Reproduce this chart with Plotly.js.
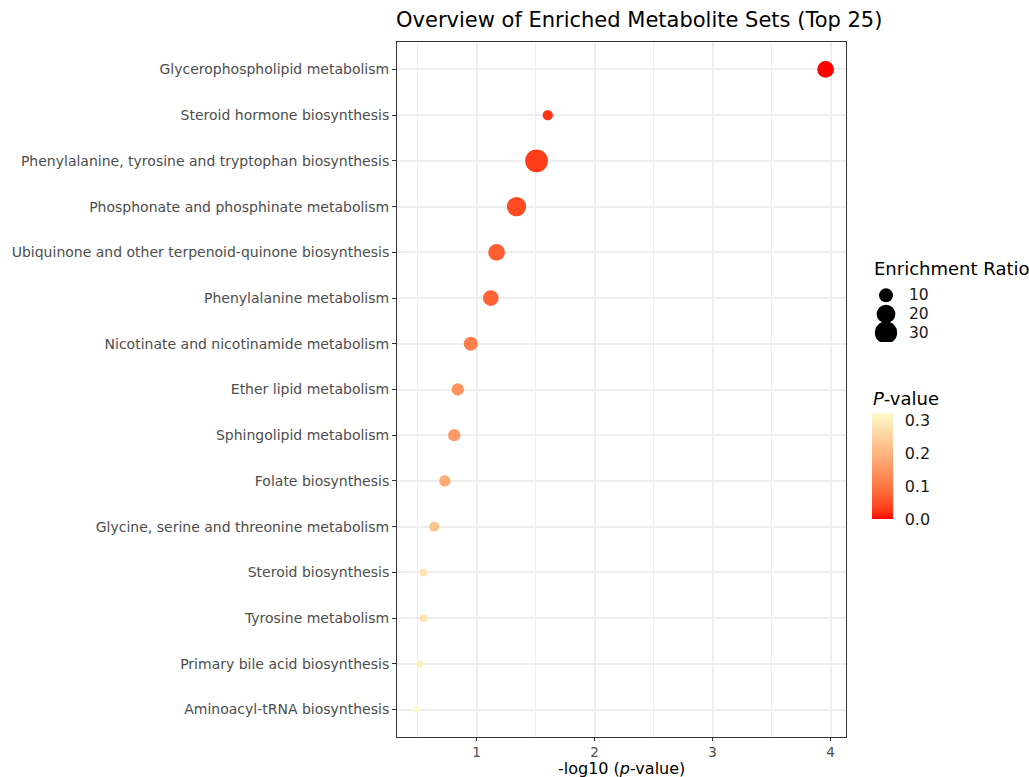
<!DOCTYPE html>
<html>
<head>
<meta charset="utf-8">
<script src="https://cdn.plot.ly/plotly-3.0.1.min.js"></script>
<style>html,body{margin:0;padding:0;background:#fff;}#chart{width:1029px;height:777px;}</style>
</head>
<body>
<div id="chart"></div>
<script>
// ---- data ----
var categories = [
  "Glycerophospholipid metabolism",
  "Steroid hormone biosynthesis",
  "Phenylalanine, tyrosine and tryptophan biosynthesis",
  "Phosphonate and phosphinate metabolism",
  "Ubiquinone and other terpenoid-quinone biosynthesis",
  "Phenylalanine metabolism",
  "Nicotinate and nicotinamide metabolism",
  "Ether lipid metabolism",
  "Sphingolipid metabolism",
  "Folate biosynthesis",
  "Glycine, serine and threonine metabolism",
  "Steroid biosynthesis",
  "Tyrosine metabolism",
  "Primary bile acid biosynthesis",
  "Aminoacyl-tRNA biosynthesis"
];
var negLog10P = [3.958, 1.603, 1.508, 1.338, 1.169, 1.12, 0.95, 0.84, 0.81, 0.73, 0.64, 0.55, 0.55, 0.518, 0.49];
var pValues   = [0.00011, 0.0249, 0.031, 0.0459, 0.0678, 0.0759, 0.112, 0.145, 0.155, 0.186, 0.229, 0.282, 0.282, 0.303, 0.324];
var enrichmentRatio = [15.3, 4.5, 31.3, 21.6, 15.3, 13.2, 10.0, 7.2, 7.2, 5.8, 4.2, 2.0, 2.0, 1.7, 1.3];
var xTickVals = [1, 2, 3, 4];
var sizeLegendValues = [10, 20, 30];
var colorbarTicks = [0.0, 0.1, 0.2, 0.3];

// ---- helpers ----
var W = 1029, H = 777;
function px(x){ return x / W; }
function py(y){ return 1 - y / H; }
function sizeOf(er){ return 2.68 + 3.58 * Math.sqrt(er); }

// Lab interpolation (like ggplot2's gradient)
function toLin(c){ c/=255; return c<=0.04045 ? c/12.92 : Math.pow((c+0.055)/1.055,2.4); }
function fromLin(c){ var v = c<=0.0031308 ? 12.92*c : 1.055*Math.pow(c,1/2.4)-0.055; return Math.max(0,Math.min(255,Math.round(v*255))); }
var Xn=0.95047, Yn=1, Zn=1.08883, eps=216/24389, kap=24389/27;
function f(t){ return t>eps ? Math.cbrt(t) : (kap*t+16)/116; }
function finv(t){ var t3=t*t*t; return t3>eps ? t3 : (116*t-16)/kap; }
function rgb2lab(c){
  var r=toLin(c[0]), g=toLin(c[1]), b=toLin(c[2]);
  var X=0.4124564*r+0.3575761*g+0.1804375*b, Y=0.2126729*r+0.7151522*g+0.0721750*b, Z=0.0193339*r+0.1191920*g+0.9503041*b;
  var fx=f(X/Xn), fy=f(Y/Yn), fz=f(Z/Zn);
  return [116*fy-16, 500*(fx-fy), 200*(fy-fz)];
}
function lab2rgb(l){
  var fy=(l[0]+16)/116, fx=fy+l[1]/500, fz=fy-l[2]/200;
  var X=finv(fx)*Xn, Y=finv(fy)*Yn, Z=finv(fz)*Zn;
  var r=3.2404542*X-1.5371385*Y-0.4985314*Z, g=-0.9692660*X+1.8760108*Y+0.0415560*Z, b=0.0556434*X-0.2040259*Y+1.0572252*Z;
  return 'rgb('+fromLin(r)+','+fromLin(g)+','+fromLin(b)+')';
}
var lowC = rgb2lab([255,0,0]), highC = rgb2lab([255,250,205]);
var colorscale = [];
for (var i=0;i<=20;i++){
  var t=i/20;
  colorscale.push([t, lab2rgb([lowC[0]+(highC[0]-lowC[0])*t, lowC[1]+(highC[1]-lowC[1])*t, lowC[2]+(highC[2]-lowC[2])*t])]);
}

var FONT = "DejaVu Sans, sans-serif";
var pMax = Math.max.apply(null, pValues);

var mainTrace = {
  type: 'scatter', mode: 'markers',
  x: negLog10P, y: categories,
  xaxis: 'x', yaxis: 'y',
  marker: {
    size: enrichmentRatio.map(sizeOf), sizemode: 'diameter',
    color: pValues, colorscale: colorscale, cmin: 0, cmax: pMax,
    opacity: 1, line: {width: 0},
    colorbar: {
      x: px(872), xanchor: 'left', xpad: 0,
      y: py(466), yanchor: 'middle', ypad: 0,
      thickness: 21, thicknessmode: 'pixels',
      len: 106, lenmode: 'pixels',
      outlinewidth: 0,
      tickvals: colorbarTicks, ticktext: colorbarTicks.map(function(v){return v.toFixed(1);}),
      ticks: 'outside', ticklen: 9, tickcolor: 'rgba(0,0,0,0)', tickwidth: 1,
      tickfont: {family: FONT, size: 16, color: '#1a1a1a'}
    }
  },
  showlegend: false, hoverinfo: 'x+y'
};

var legendTrace = {
  type: 'scatter', mode: 'markers',
  x: sizeLegendValues.map(function(){return 0.5;}),
  y: sizeLegendValues.map(function(v,i){return i;}),
  xaxis: 'x2', yaxis: 'y2',
  marker: {size: sizeLegendValues.map(sizeOf), sizemode: 'diameter', color: '#000000', opacity: 1, line: {width: 0}},
  showlegend: false, hoverinfo: 'skip'
};

var annotations = [
  {xref: 'paper', yref: 'paper', x: px(872), y: py(268), xanchor: 'left', yanchor: 'middle',
   text: 'Enrichment Ratio', showarrow: false, font: {family: FONT, size: 18, color: '#000'}},
  {xref: 'paper', yref: 'paper', x: px(871), y: py(398), xanchor: 'left', yanchor: 'middle',
   text: '<i>P</i>-value', showarrow: false, font: {family: FONT, size: 18, color: '#000'}},
  {xref: 'paper', yref: 'paper', x: px(621.5), y: py(768), xanchor: 'center', yanchor: 'middle',
   text: '-log10 (<i>p</i>-value)', showarrow: false, font: {family: FONT, size: 16, color: '#000'}}
];
sizeLegendValues.forEach(function(v, i){
  annotations.push({xref: 'paper', yref: 'y2', x: px(907), y: i, xanchor: 'left', yanchor: 'middle',
    text: String(v), showarrow: false, font: {family: FONT, size: 15.5, color: '#1a1a1a'}});
});

var layout = {
  width: W, height: H,
  margin: {l: 0, r: 0, t: 0, b: 0, pad: 0},
  paper_bgcolor: '#ffffff', plot_bgcolor: '#ffffff',
  font: {family: FONT, color: '#000'},
  title: {text: 'Overview of Enriched Metabolite Sets (Top 25)', xref: 'paper', yref: 'paper',
          x: px(396), xanchor: 'left', y: py(20), yanchor: 'middle',
          font: {family: FONT, size: 21, color: '#000'}},
  xaxis: {
    domain: [px(397), px(846)], range: [0.325, 4.131], anchor: 'y',
    tickvals: xTickVals, ticktext: xTickVals.map(String),
    ticks: 'outside', ticklen: 3, tickwidth: 1, tickcolor: '#333333',
    tickfont: {family: FONT, size: 13.5, color: '#4d4d4d'},
    showgrid: true, gridcolor: '#eeeeee', gridwidth: 2,
    minor: {dtick: 0.5, tick0: 0.5, showgrid: true, gridcolor: '#eeeeee', gridwidth: 1, ticks: ''},
    showline: true, linecolor: '#333333', linewidth: 1, mirror: true,
    zeroline: false, automargin: false
  },
  yaxis: {
    domain: [py(737), py(42)], anchor: 'x',
    type: 'category', categoryorder: 'array', categoryarray: categories,
    range: [categories.length - 1 + 0.6, -0.6],
    ticks: 'outside', ticklen: 4, tickwidth: 1, tickcolor: '#333333',
    tickfont: {family: FONT, size: 14, color: '#4d4d4d'},
    showgrid: true, gridcolor: '#eeeeee', gridwidth: 2,
    showline: true, linecolor: '#333333', linewidth: 1, mirror: true,
    zeroline: false, automargin: false
  },
  xaxis2: {domain: [px(866), px(906)], range: [0, 1], anchor: 'y2', visible: false, fixedrange: true},
  yaxis2: {domain: [py(342), py(286)], range: [2.5, -0.5], anchor: 'x2', visible: false, fixedrange: true},
  annotations: annotations,
  showlegend: false
};

Plotly.newPlot('chart', [mainTrace, legendTrace], layout, {displayModeBar: false, staticPlot: true});
</script>
</body>
</html>
